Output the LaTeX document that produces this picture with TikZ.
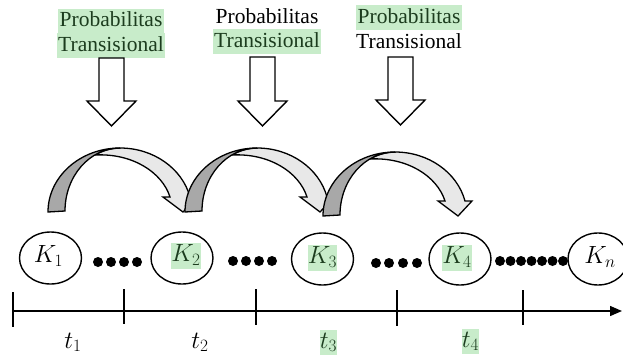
\documentclass[tikz,border=0pt]{standalone}
\usepackage{fontspec}
\setmainfont{Liberation Serif}
\usetikzlibrary{arrows.meta,shapes.geometric}
\definecolor{hl}{RGB}{200,236,202}
\definecolor{hltext}{RGB}{28,60,30}
\definecolor{darkg}{RGB}{168,168,168}
\definecolor{lightg}{RGB}{232,232,232}
\begin{document}
\begin{tikzpicture}[x=1pt,y=1pt,line join=miter,
  lbl/.style={font=\fontsize{21.5}{24}\selectfont,inner xsep=1.5pt,inner ysep=0pt,
    text height=18pt,text depth=7pt,anchor=base},
  hlbl/.style={lbl,fill=hl,text=hltext},
  harrow/.style={draw=black,line width=1.4pt,fill=white},
  cline/.style={draw=black,line width=1.3pt},
  kell/.style={draw=black,line width=1.4pt,ellipse,minimum width=62pt,minimum height=52pt,inner sep=0pt},
  mlbl/.style={font=\fontsize{23.5}{26}\selectfont,inner sep=0.3pt,text height=18pt,text depth=7pt},
  hmlbl/.style={mlbl,fill=hl,text=hltext},
  dot/.style={circle,fill=black,inner sep=0pt,minimum size=10pt},
  tick/.style={draw=black,line width=1.3pt}]
\useasboundingbox (0,0) rectangle (623,-356);

% labels
\node[hlbl] (p1) at (111,-27) {Probabilitas};
\node[hlbl,minimum width=108pt] (q1) at (111,-51) {Transisional};
\node[lbl] (p2) at (267,-23) {Probabilitas};
\node[hlbl] (q2) at (267,-47) {Transisional};
\node[hlbl] (p3) at (409,-23) {Probabilitas};
\node[lbl] (q3) at (409,-48) {Transisional};

% hollow down arrows
\draw[harrow] (99,-58) -- (124,-58) -- (124,-101) -- (136,-101) -- (111.5,-126) -- (87,-101) -- (99,-101) -- cycle;
\draw[harrow] (250,-57) -- (275,-57) -- (275,-101) -- (287,-101) -- (262.5,-126) -- (238,-101) -- (250,-101) -- cycle;
\draw[harrow] (388,-57) -- (413,-57) -- (413,-100) -- (425,-100) -- (400.5,-125) -- (376,-100) -- (388,-100) -- cycle;

% curved arrows
\foreach \dx/\dy in {0/0,137/0,275/-4}{
\begin{scope}[shift={(\dx,\dy)}]
\filldraw[fill=lightg,cline] (120,-148) arc[start angle=90,end angle=13.6,x radius=72,y radius=64]
  -- (197,-197) -- (183,-212) -- (163,-197) -- (170,-197)
  .. controls (162,-172) and (132,-153) .. (95,-155)
  arc[start angle=117,end angle=90,x radius=55,y radius=63] -- cycle;
\filldraw[fill=darkg,cline] (48,-212) arc[start angle=180,end angle=90,x radius=72,y radius=64]
  arc[start angle=90,end angle=180,x radius=55,y radius=63] -- cycle;
\end{scope}}

% states
\node[kell] (e1) at (50.5,-258) {};
\node[kell] (e2) at (182,-258) {};
\node[kell] (e3) at (322.5,-259) {};
\node[kell] (e4) at (460,-259) {};
\node[kell,minimum width=60pt] (en) at (598,-259) {};
\node[mlbl] (k1) at ([xshift=-2pt,yshift=1pt]e1.center) {$K_1$};
\node[hmlbl] (k2) at ([xshift=4pt,yshift=2pt]e2.center) {$K_2$};
\node[hmlbl] (k3) at ([yshift=1pt]e3.center) {$K_3$};
\node[hmlbl] (k4) at ([xshift=-3pt,yshift=1pt]e4.center) {$K_4$};
\node[mlbl] (kn) at ([xshift=2pt,yshift=1pt]en.center) {$K_n$};

% dots
\foreach \x [count=\i] in {98,111,124,137}{\node[dot] (da\i) at (\x,-262) {};}
\foreach \x [count=\i] in {233,246,259,272}{\node[dot] (db\i) at (\x,-261) {};}
\foreach \x [count=\i] in {376,389,403,417}{\node[dot] (dc\i) at (\x,-263) {};}
\foreach \x [count=\i] in {500,510.5,521,531.5,542,552.5,563}{\node[dot] (dd\i) at (\x,-261) {};}

% time axis
\coordinate (ax0) at (13,-311);
\coordinate (ax1) at (622,-311);
\draw[line width=1.4pt,-{Triangle[length=12pt,width=10pt]}] (ax0) -- (ax1);
\foreach \x/\a/\b [count=\i] in {13/292/327,124/289/324,256/289/325,397/290/326,523/290/325}{
  \coordinate (ta\i) at (\x,-\a);
  \coordinate (tb\i) at (\x,-\b);
  \draw[tick] (ta\i) -- (tb\i);}

\node[mlbl,anchor=base] (t1) at (73,-348) {$t_1$};
\node[mlbl,anchor=base] (t2) at (200,-348) {$t_2$};
\node[hmlbl,anchor=base] (t3) at (328.5,-348) {$t_3$};
\node[hmlbl,anchor=base] (t4) at (470.5,-347) {$t_4$};
\end{tikzpicture}
\end{document}
